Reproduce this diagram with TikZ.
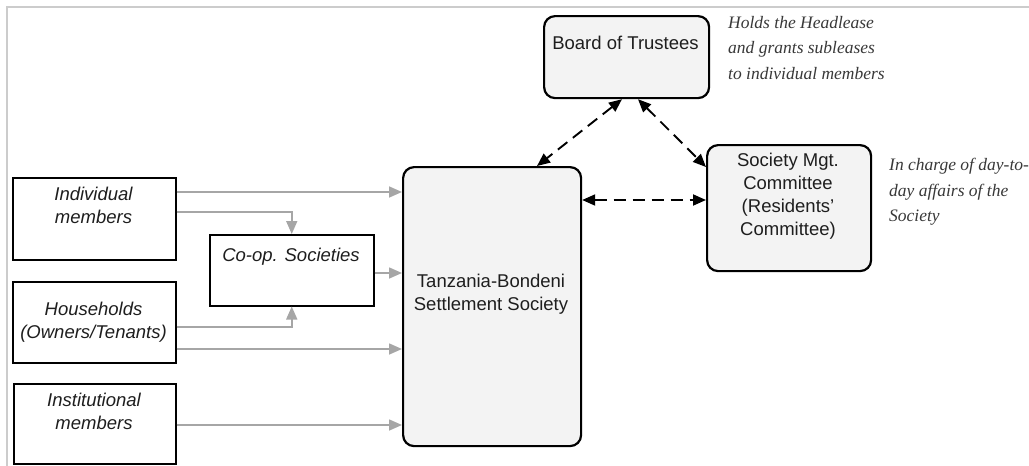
\documentclass[tikz,border=0pt]{standalone}
\usepackage{fontspec}
\setmainfont{Liberation Serif}
\setsansfont{Liberation Sans}
\usetikzlibrary{arrows.meta}
\definecolor{txt}{HTML}{1E1E1E}
\definecolor{note}{HTML}{383838}
\definecolor{gline}{HTML}{A6A6A6}
\definecolor{rfill}{HTML}{F3F3F3}
\definecolor{frame}{HTML}{CCCCCC}
\tikzset{
  sqbox/.style={draw=black, line width=1.5pt, fill=white, inner sep=0pt, anchor=north west},
  rbox/.style={draw=black, line width=2.2pt, fill=rfill, rounded corners=11pt, inner sep=0pt, anchor=north west},
  lab/.style={font=\sffamily\fontsize{18.5}{23}\selectfont, text=txt, align=center, inner sep=0pt},
  ilab/.style={lab, font=\sffamily\itshape\fontsize{18.5}{23}\selectfont},
  notetxt/.style={font=\rmfamily\itshape\fontsize{17.5}{25.5}\selectfont, text=note, align=left, inner sep=0pt, anchor=north west},
  garrow/.style={draw=gline, line width=1.6pt, -{Triangle[length=13pt,width=11pt]}},
  darrow/.style={draw=black, line width=1.9pt, dash pattern=on 12pt off 7pt, {Triangle[length=13pt,width=11pt]}-{Triangle[length=13pt,width=11pt]}},
}
\begin{document}
\begin{tikzpicture}[x=1pt,y=-1pt]
\useasboundingbox (0,0) rectangle (1029,466);
% frame
\draw[frame, line width=2pt] (6,7) -- (1029,7);
\draw[frame, line width=2pt] (7,7) -- (7,466);
% boxes
\node[sqbox, minimum width=163pt, minimum height=82pt] (ind) at (12,177) {};
\node[sqbox, minimum width=164pt, minimum height=71pt] (coop) at (209,234) {};
\node[sqbox, minimum width=163pt, minimum height=81pt] (hh) at (12,281) {};
\node[sqbox, minimum width=162pt, minimum height=80pt] (inst) at (13,383) {};
\node[rbox, minimum width=178pt, minimum height=279pt] (tbs) at (402,166) {};
\node[rbox, minimum width=165pt, minimum height=82pt] (bot) at (543,15) {};
\node[rbox, minimum width=164pt, minimum height=126pt] (smc) at (706,144) {};
% labels
\node[ilab] (indT) at (93.5,205) {Individual\\members};
\node[ilab] (coopT) at (291,257) {Co-op. Societies};
\node[ilab] (hhT) at (93.5,322.5) {Households\\(Owners/Tenants)};
\node[ilab] (instT) at (94,411.5) {Institutional\\members};
\node[lab] (tbsT) at (491,294) {Tanzania-Bondeni\\Settlement Society};
\node[lab] (botT) at (625.5,43) {Board of Trustees};
\node[lab] (smcT) at (788,196) {Society Mgt.\\Committee\\(Residents'\\Committee)};
% notes
\node[notetxt] (n1) at (728,16) {Holds the Headlease\\and grants subleases\\to individual members};
\node[notetxt] (n2) at (889,158) {In charge of day-to-\\day affairs of the\\Society};
% grey arrows
\draw[garrow] (ind.east |- 0,192) -- (tbs.west |- 0,192);
\draw[garrow] (ind.east |- 0,212) -| (coop.north);
\draw[garrow] (coop.east |- 0,273) -- (tbs.west |- 0,273);
\draw[garrow] (hh.east |- 0,327) -| (coop.south);
\draw[garrow] (hh.east |- 0,349) -- (tbs.west |- 0,349);
\draw[garrow] (inst.east |- 0,425) -- (tbs.west |- 0,425);
% dashed arrows
\draw[darrow] (bot.south -| 622,0) -- (tbs.north -| 537,0);
\draw[darrow] (bot.south -| 638,0) -- (smc.west |- 0,167);
\draw[darrow] (tbs.east |- 0,200) -- (smc.west |- 0,200);
\end{tikzpicture}
\end{document}
